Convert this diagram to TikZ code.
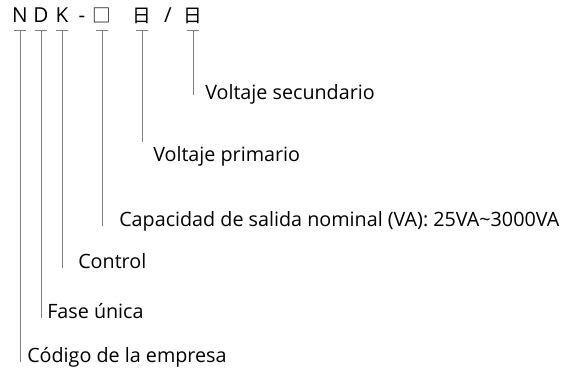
\documentclass[tikz,border=0pt]{standalone}
\usepackage{fontspec}
\setmainfont{Open Sans}
\newfontfamily\cjk{Noto Sans CJK SC}
\usepackage{xcolor}
\usetikzlibrary{positioning}

\begin{document}
\begin{tikzpicture}[x=0.75pt, y=-0.75pt,
    code/.style={anchor=base, inner sep=0pt, font=\fontsize{15.5}{18}\selectfont},
    desc/.style={anchor=base west, inner sep=0pt, font=\fontsize{14.8}{17}\selectfont},
    lead/.style={draw=gray, line width=0.75pt}]
    \useasboundingbox (0, 0) rectangle (564, 374);

    \path (20, 23) node [code] (n) {N};
    \path (41, 23) node [code] (d) {D};
    \path (62, 23) node [code] (k) {K};
    \path (82, 23) node [code] (dash) {-};
    \path (102, 23) node [code] (cap) {\cjk\fontsize{14}{16}\selectfont □};
    \path (142, 23) node [code] (pri) {\cjk\fontsize{14}{16}\selectfont 日};
    \path (168, 23) node [code] (slash) {/};
    \path (193, 23) node [code] (sec) {\cjk\fontsize{14}{16}\selectfont 日};

    \path (205, 100) node [desc] (secl) {Voltaje secundario};
    \path (153, 162) node [desc] (pril) {Voltaje primario};
    \path (119, 226) node [desc] (capl) {Capacidad de salida nominal (VA): 25VA\textasciitilde3000VA};
    \path (78, 268) node [desc] (ctl) {Control};
    \path (47, 318) node [desc] (fas) {Fase única};
    \path (27, 362) node [desc] (cod) {Código de la empresa};
    \coordinate (priend) at (142, 142);
    \coordinate (secend) at (193, 95);

    % ticks under the code
    \foreach \c in {n, d, k, cap, pri, sec}
	\draw [lead] ([xshift=-4.5pt, yshift=-6pt]\c.base) -- ([xshift=4.5pt, yshift=-6pt]\c.base);

    \draw [lead] ([yshift=-6pt]n.base) -- (n.base |- cod.base);
    \draw [lead] ([yshift=-6pt]d.base) -- (d.base |- fas.base);
    \draw [lead] ([yshift=-6pt]k.base) -- (k.base |- ctl.base);
    \draw [lead] ([yshift=-6pt]cap.base) -- (cap.base |- capl.base);
    \draw [lead] ([yshift=-6pt]pri.base) -- (priend);
    \draw [lead] ([yshift=-6pt]sec.base) -- (secend);
\end{tikzpicture}
\end{document}
